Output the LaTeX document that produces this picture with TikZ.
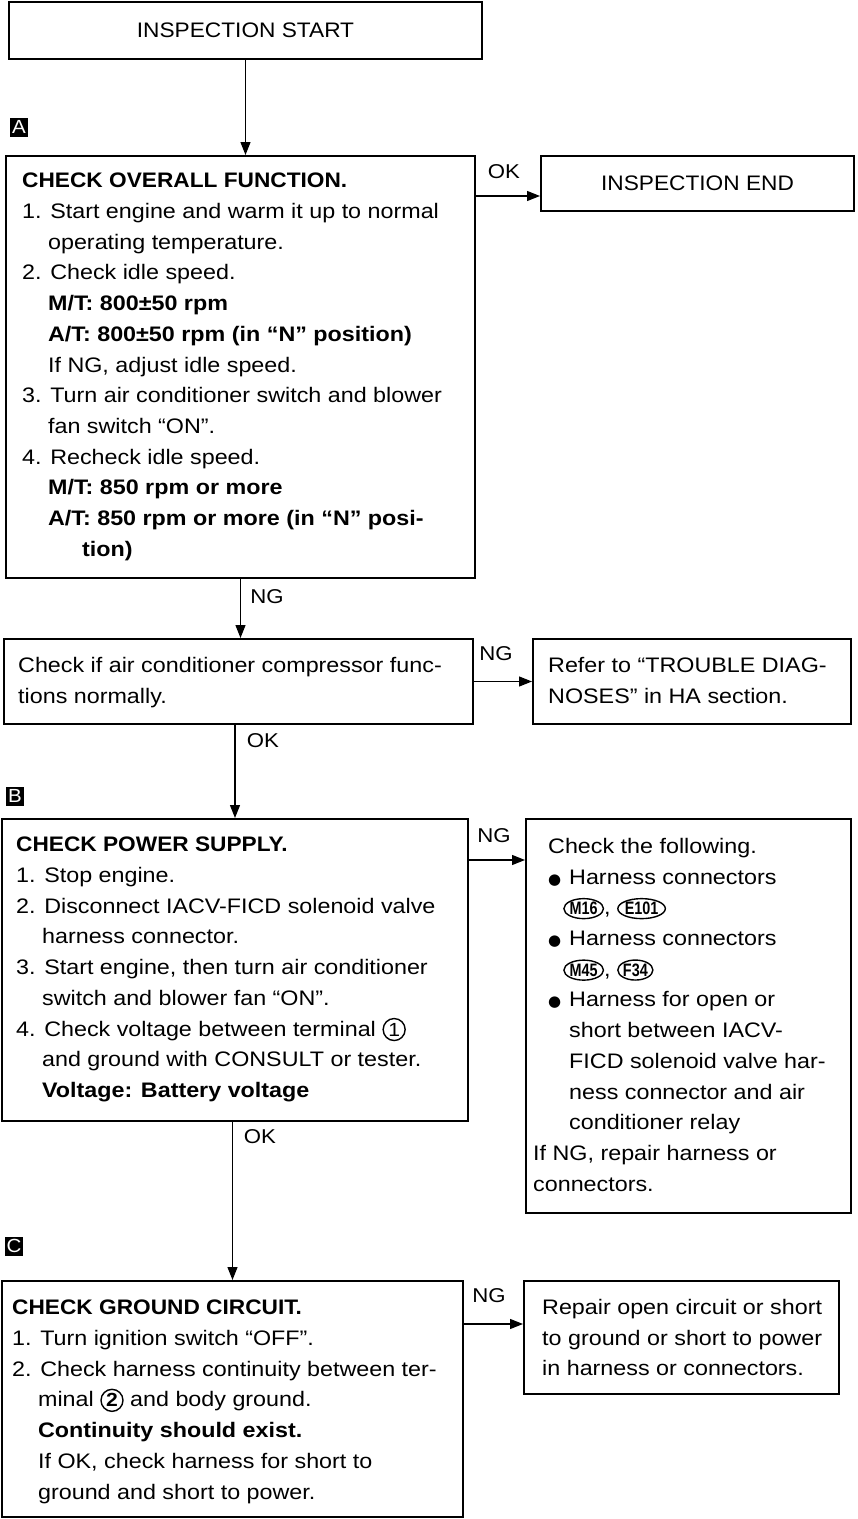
\documentclass[tikz,border=0pt]{standalone}
\usepackage{fontspec}
\usepackage{graphicx}
\setmainfont{Liberation Sans}[FakeStretch=1.11]
\newfontfamily\titlefont{Liberation Sans}[FakeStretch=1.08]
\newfontfamily\symfont{DejaVu Sans}
\usetikzlibrary{arrows.meta,shapes.geometric}

\newcommand\cnum[1]{\tikz[baseline=(cn.base)]\node[draw,circle,line width=1.4pt,inner sep=0pt,minimum size=22pt,font=\fontsize{19}{19}\selectfont](cn){#1};}
\newcommand\conn[1]{\tikz[baseline=(cc.base)]\node[draw,ellipse,line width=1.4pt,inner xsep=0pt,inner ysep=0pt,minimum height=20pt,font=\fontsize{18}{18}\selectfont\bfseries](cc){\scalebox{0.72}[1]{#1}};}
\newcommand\ind{\phantom{1.\ }}
\newcommand\ttl[1]{{\titlefont\bfseries #1}}
\newcommand\bul{\makebox[21pt][l]{\symfont\fontsize{15}{15}\selectfont ●}}

\begin{document}
\begin{tikzpicture}[x=1pt,y=-1pt,
  box/.style={draw, line width=2pt, anchor=north west, inner sep=0pt},
  txt/.style={anchor=north west, inner sep=0pt, align=left, font=\fontsize{21}{30.7}\selectfont},
  ctxt/.style={font=\titlefont\fontsize{21}{25}\selectfont},
  arr/.style={line width=1.3pt, -{Triangle[length=13pt,width=10pt]}},
  lbl/.style={inner sep=0pt, font=\fontsize{20}{20}\selectfont},
  secmark/.style={fill=black, text=white, inner sep=0pt, minimum width=18pt, minimum height=19pt, font=\titlefont\fontsize{19}{19}\selectfont}]
\fill[white] (0,0) rectangle (858,1519);
\useasboundingbox (0,0) rectangle (858,1519);

% boxes
\node[box, ctxt, minimum width=473pt, minimum height=57pt] (start) at (8,1) {INSPECTION START};
\node[box, minimum width=469pt, minimum height=422pt] (A) at (5,155) {};
\node[box, ctxt, minimum width=313pt, minimum height=55pt] (end) at (540,155) {INSPECTION END};
\node[box, minimum width=469pt, minimum height=85pt] (chk) at (3,638) {};
\node[box, minimum width=318pt, minimum height=85pt] (refer) at (532,638) {};
\node[box, minimum width=466pt, minimum height=302pt] (B) at (1,818) {};
\node[box, minimum width=325pt, minimum height=394pt] (follow) at (525,818) {};
\node[box, minimum width=461pt, minimum height=236pt] (C) at (1,1280) {};
\node[box, minimum width=315pt, minimum height=113pt] (repair) at (523,1280) {};

% section markers
\node[secmark] (mA) at (19,127) {A};
\node[secmark] (mB) at (15,796) {B};
\node[secmark] (mC) at (14,1246) {C};

% texts
\node[txt] (tA) at (22,173) {\ttl{CHECK OVERALL FUNCTION.}\\
1. Start engine and warm it up to normal\\
\ind operating temperature.\\
2. Check idle speed.\\
\ind\textbf{M/T: 800±50 rpm}\\
\ind\textbf{A/T: 800±50 rpm (in “N” position)}\\
\ind If NG, adjust idle speed.\\
3. Turn air conditioner switch and blower\\
\ind fan switch “ON”.\\
4. Recheck idle speed.\\
\ind\textbf{M/T: 850 rpm or more}\\
\ind\textbf{A/T: 850 rpm or more (in “N” posi-}\\
\ind\hspace*{34pt}\textbf{tion)}};

\node[txt] (tchk) at (18,657) {Check if air conditioner compressor func-\\tions normally.};
\node[txt] (trefer) at (548,657) {Refer to “TROUBLE DIAG-\\NOSES” in HA section.};

\node[txt] (tB) at (16,837) {\ttl{CHECK POWER SUPPLY.}\\
1. Stop engine.\\
2. Disconnect IACV-FICD solenoid valve\\
\ind harness connector.\\
3. Start engine, then turn air conditioner\\
\ind switch and blower fan “ON”.\\
4. Check voltage between terminal \cnum{1}\\
\ind and ground with CONSULT or tester.\\
\ind\textbf{Voltage: Battery voltage}};

\node[txt] (tfollow) at (533,838) {\hspace*{15pt}Check the following.\\
\hspace*{15pt}\bul Harness connectors\\
\hspace*{30pt}\conn{M16}, \conn{E101}\\
\hspace*{15pt}\bul Harness connectors\\
\hspace*{30pt}\conn{M45}, \conn{F34}\\
\hspace*{15pt}\bul Harness for open or\\
\hspace*{36pt}short between IACV-\\
\hspace*{36pt}FICD solenoid valve har-\\
\hspace*{36pt}ness connector and air\\
\hspace*{36pt}conditioner relay\\
If NG, repair harness or\\
connectors.};

\node[txt] (tC) at (12,1300) {\ttl{CHECK GROUND CIRCUIT.}\\
1. Turn ignition switch “OFF”.\\
2. Check harness continuity between ter-\\
\ind minal \cnum{\textbf{2}} and body ground.\\
\ind\textbf{Continuity should exist.}\\
\ind If OK, check harness for short to\\
\ind ground and short to power.};

\node[txt] (trepair) at (542,1299) {Repair open circuit or short\\to ground or short to power\\in harness or connectors.};

% connectors
\draw[arr] (start.south) -- (start.south |- A.north);
\coordinate (endin) at ([yshift=-12.5pt]end.west);
\draw[arr] (A.east |- endin) -- (endin);
\draw[arr] (A.south) -- (A.south |- chk.north);
\draw[arr] (chk.east) -- (refer.west);
\draw[arr] (chk.south -| B.north) -- (B.north);
\coordinate (Bng) at ([yshift=-42pt]B.north east);
\draw[arr] (Bng) -- (Bng -| follow.west);
\draw[arr] (C.north |- B.south) -- (C.north);
\coordinate (Cng) at ([yshift=-44pt]C.north east);
\draw[arr] (Cng) -- (Cng -| repair.west);

% labels
\node[lbl] (lA) at (504,172) {OK};
\node[lbl] (lA2) at (267,597) {NG};
\node[lbl] (lchk) at (496,654) {NG};
\node[lbl] (lchk2) at (263,741) {OK};
\node[lbl] (lB) at (494,836) {NG};
\node[lbl] (lB2) at (260,1137) {OK};
\node[lbl] (lC) at (489,1296) {NG};
\end{tikzpicture}
\end{document}
